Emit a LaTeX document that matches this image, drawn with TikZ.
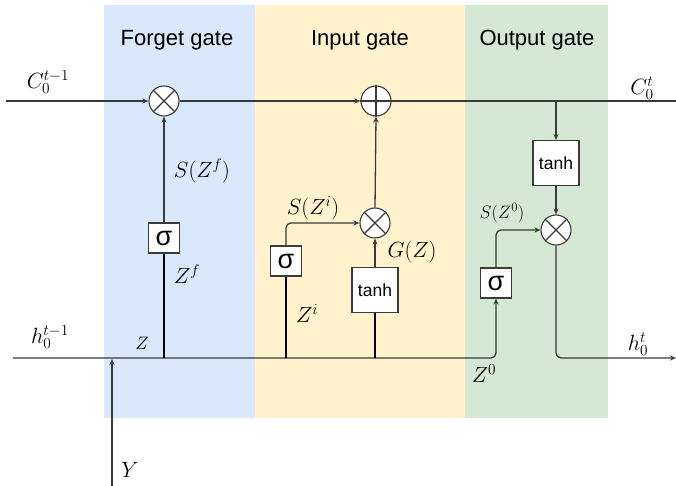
\RequirePackage{fix-cm}
\documentclass[tikz,border=0pt]{standalone}
\usepackage{fontspec}
\newfontfamily\lsans{Liberation Sans}
\usetikzlibrary{arrows.meta}
\definecolor{cblue}{HTML}{DAE8FC}
\definecolor{cyel}{HTML}{FFF2CC}
\definecolor{cgreen}{HTML}{D5E8D4}
\definecolor{lc}{HTML}{3A3A3A}
\tikzset{
 wire/.style={draw=lc, line width=1.3pt},
 arr/.style={wire,-{Stealth[length=6pt,width=5pt]}},
 opnode/.style={circle, draw=lc, fill=white, line width=1.1pt, minimum size=30pt, inner sep=0pt},
 sigbox/.style={draw=lc, fill=white, line width=1.1pt, minimum width=31pt, minimum height=30pt, inner sep=0pt, font=\lsans\fontsize{27}{27}\selectfont},
 tanhbox/.style={draw=lc, fill=white, line width=1.1pt, minimum width=46pt, minimum height=45pt, inner sep=0pt, font=\lsans\fontsize{17.5}{20}\selectfont},
 title/.style={font=\lsans\fontsize{22}{26}\selectfont},
 lab/.style={font=\fontsize{22}{26}\selectfont, inner sep=0pt},
 slab/.style={font=\fontsize{18}{22}\selectfont, inner sep=0pt},
 oplines/.style={draw=lc, line width=1.1pt},
}
\begin{document}
\begin{tikzpicture}[x=1pt,y=-1pt]
\useasboundingbox (0,0) rectangle (676,486);
% panels
\fill[cblue] (104,5) rectangle (255,418);
\fill[cyel] (255,5) rectangle (465,418);
\fill[cgreen] (465,5) rectangle (608,418);
\node[title] (t1) at (177,40) {Forget gate};
\node[title] (t2) at (360,40) {Input gate};
\node[title] (t3) at (537,40) {Output gate};
% nodes
\node[opnode] (m1) at (164,101) {};
\node[opnode] (p1) at (376,101) {};
\node[opnode] (m2) at (375,223) {};
\node[opnode] (m3) at (556,230) {};
\node[sigbox] (s1) at (164,238) {σ};
\node[sigbox] (s2) at (286,261) {σ};
\node[sigbox] (s3) at (496,283) {σ};
\node[tanhbox] (th2) at (375,290) {tanh};
\node[tanhbox] (th3) at (556,163) {tanh};
% operator glyphs
\draw[oplines] (m1.north west) -- (m1.south east) (m1.north east) -- (m1.south west);
\draw[oplines] (m2.north west) -- (m2.south east) (m2.north east) -- (m2.south west);
\draw[oplines] (m3.north west) -- (m3.south east) (m3.north east) -- (m3.south west);
\draw[oplines] (p1.north) -- (p1.south) (p1.west) -- (p1.east);
% coordinates
\coordinate (cin) at (6,101);
\coordinate (cout) at (676,101);
\coordinate (cj) at (556,101);
\coordinate (hin) at (13,358);
\coordinate (hout) at (676,358);
\coordinate (j1) at (164,358);
\coordinate (j2) at (286,358);
\coordinate (j3) at (375,358);
\coordinate (yb) at (112,486);
\coordinate (yt) at (112,359);
% cell line
\draw[arr] (cin) -- (m1.west);
\draw[arr] (m1.east) -- (p1.west);
\draw[wire] (p1.east) -- (cout);
\draw[arr] (cj) -- (th3.north);
% hidden line
\draw[arr, rounded corners=5pt] (hin) -| (s3.south);
\draw[wire, draw=black] (j1) -- (s1.south);
\draw[wire, draw=black] (j2) -- (s2.south);
\draw[wire, draw=black] (j3) -- (th2.south);
\draw[arr] (s1.north) -- (m1.south);
\draw[arr, rounded corners=5pt] (s2.north) |- (m2.west);
\draw[arr] (th2.north) -- (m2.south);
\draw[arr] (m2.north) -- (p1.south);
\draw[arr] (th3.south) -- (m3.north);
\draw[arr, rounded corners=5pt] (s3.north) |- (m3.west);
\draw[arr, rounded corners=5pt] (m3.south) |- (hout);
\draw[arr] (yb) -- (yt);
% labels
\node[lab] (lc1) at (48,82) {$C_0^{t-1}$};
\node[lab] (lc2) at (642,88) {$C_0^{t}$};
\node[lab] (lh1) at (50,337) {$h_0^{t-1}$};
\node[lab] (lh2) at (638,344) {$h_0^{t}$};
\node[slab] (lz) at (142,343) {$Z$};
\node[lab] (lzf) at (187,274) {$Z^f$};
\node[lab] (lsf) at (202,171) {$S(Z^f)$};
\node[lab] (lsi) at (313,208) {$S(Z^i)$};
\node[lab] (lg) at (412,252) {$G(Z)$};
\node[lab] (lzi) at (307,313) {$Z^i$};
\node[slab] (ls0) at (502,213) {$S(Z^0)$};
\node[lab] (lz0) at (484,374) {$Z^0$};
\node[lab] (ly) at (130,470) {$Y$};
\end{tikzpicture}
\end{document}
